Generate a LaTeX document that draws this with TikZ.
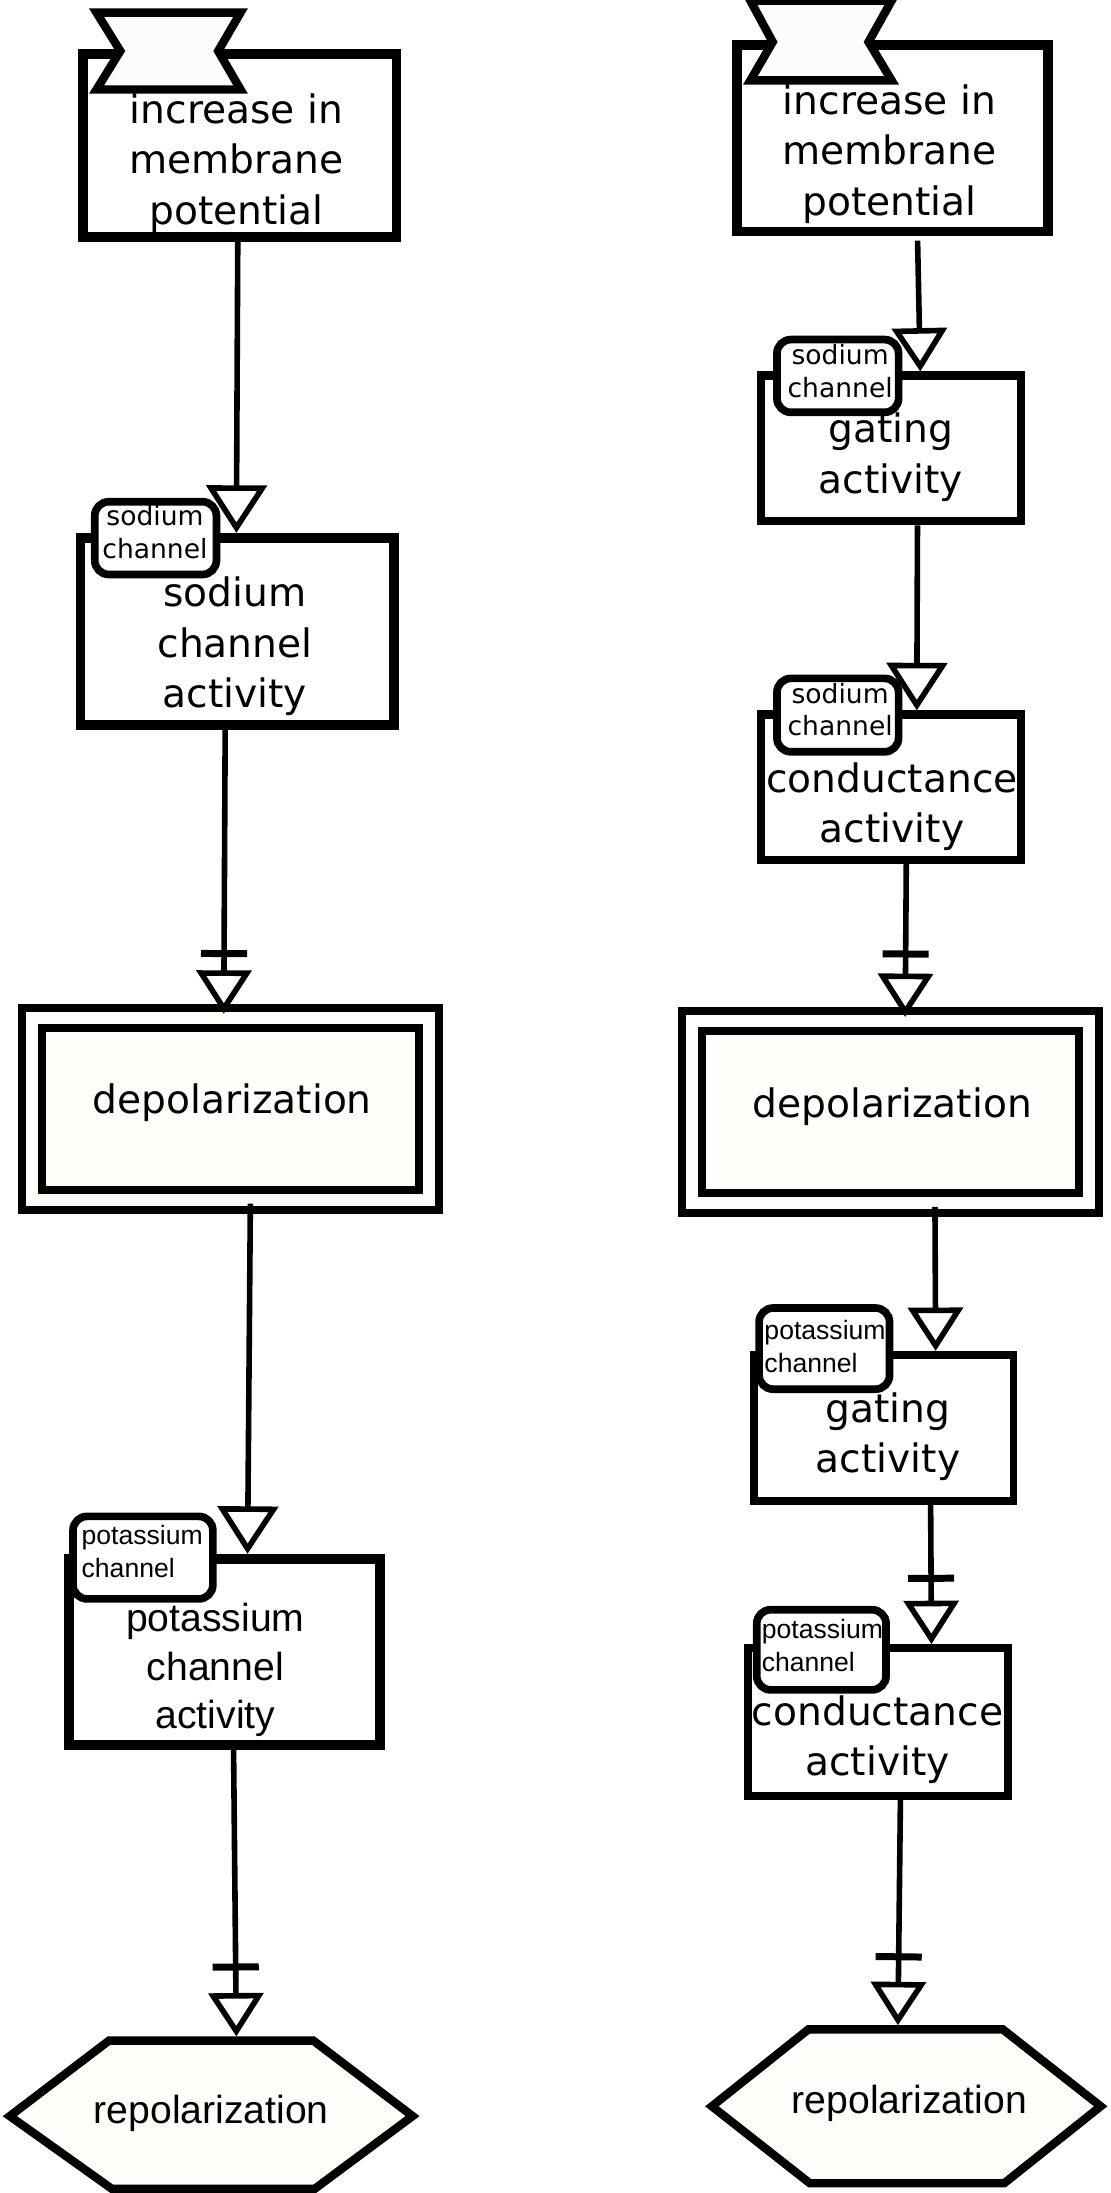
\documentclass[tikz,border=0pt]{standalone}
\usepackage{fontspec}
\newfontfamily\djv{DejaVu Sans}
\newfontfamily\arl{Liberation Sans}
\usetikzlibrary{arrows.meta,decorations.markings,calc}
\definecolor{cream}{RGB}{253,253,250}
\definecolor{flagfill}{RGB}{252,252,252}
\begin{document}
\begin{tikzpicture}[x=1pt,y=-1pt,
  pbox/.style={draw, rectangle, fill=white, inner sep=0pt, line join=miter},
  uoi/.style={draw, rectangle, rounded corners=10pt, fill=white, line width=5.5pt, inner sep=0pt},
  dbox/.style={draw, rectangle, fill=cream, double=cream, double distance=8.5pt, line width=5.8pt, inner sep=0pt},
  flagst/.style={draw, fill=flagfill, line width=6pt, line join=miter},
  hexst/.style={draw, fill=cream, line width=6pt, line join=miter},
  big/.style={font=\djv\fontsize{28}{36}\selectfont, align=center, inner sep=0pt},
  small/.style={font=\djv\fontsize{19}{23.5}\selectfont, align=center, inner sep=0pt},
  bigar/.style={font=\arl\fontsize{28}{35}\selectfont, align=center, inner sep=0pt},
  smallar/.style={font=\arl\fontsize{19}{24}\selectfont, align=left, inner sep=0pt, anchor=west},
  conn/.style={line width=4pt, -{Triangle[open, length=31pt, width=39pt]}},
  connbig/.style={line width=4pt, -{Triangle[open, length=34pt, width=43pt]}},
  nec/.style={postaction={decorate}, decoration={markings,
      mark=at position -#1 with {\draw[line width=5pt, -] (0,-16.5) -- (0,16.5);}}}
]
\useasboundingbox (0,0) rectangle (794,1568);

% ---------------- left column ----------------
\node[pbox, line width=7pt, minimum width=224pt, minimum height=131pt] (l1) at (171.5,104) {};
\draw[flagst] (69,9) -- (172,9) -- (156,36.5) -- (172,64) -- (69,64) -- (86,36.5) -- cycle;
\node[big] (l1t) at (169,116.5) {increase in\\membrane\\potential};

\node[pbox, line width=7pt, minimum width=224pt, minimum height=134pt] (l2) at (169.5,451.5) {};
\node[uoi, minimum width=87pt, minimum height=52pt] (l2u) at (111.25,384.75) {};
\node[small] (l2ut) at (110.8,380.3) {sodium\\channel};
\node[big] (l2t) at (168,462.25) {sodium\\channel\\activity};

\node[dbox, minimum width=284pt, minimum height=130pt] (dl) at (164.6,792.7) {};
\node[big] (dlt) at (166,788.25) {depolarization};

\node[pbox, line width=7pt, minimum width=222pt, minimum height=133pt] (l4) at (160.5,1181) {};
\node[uoi, minimum width=100pt, minimum height=59pt] (l4u) at (102.2,1113.7) {};
\node[smallar] (l4ut) at (58.2,1109.2) {potassium\\channel};
\node[bigar] (l4t) at (154,1193.95) {potassium\\channel\\activity};

\draw[hexst] (7,1513) -- (78,1459) -- (224,1459) -- (295,1513) -- (225,1565) -- (80,1565) -- cycle;
\node[bigar] (hl) at (151,1510.95) {repolarization};
\coordinate (hlTop) at (169,1456);

% ---------------- right column ----------------
\node[pbox, line width=7pt, minimum width=222.5pt, minimum height=133.5pt] (r1) at (638.25,98.75) {};
\draw[flagst] (536.5,0.5) -- (637.5,0.5) -- (621,30) -- (637.5,57.5) -- (536.5,57.5) -- (552.5,30) -- cycle;
\node[big] (r1t) at (636,110.25) {increase in\\membrane\\potential};

\node[pbox, line width=6pt, minimum width=186pt, minimum height=104pt] (r2) at (637,320.6) {};
\node[uoi, minimum width=87pt, minimum height=52pt] (r2u) at (599,268.8) {};
\node[small] (r2ut) at (600.7,265.1) {sodium\\channel};
\node[big] (r2t) at (637,326.95) {gating\\activity};

\node[pbox, line width=6pt, minimum width=186pt, minimum height=104pt] (r3) at (637,562.9) {};
\node[uoi, minimum width=87pt, minimum height=52.5pt] (r3u) at (599,511.3) {};
\node[small] (r3ut) at (600.7,507.35) {sodium\\channel};
\node[big] (r3t) at (637.8,576.65) {conductance\\activity};

\node[dbox, minimum width=284pt, minimum height=130pt] (dr) at (636.9,795) {};
\node[big] (drt) at (638,791.05) {depolarization};

\node[pbox, line width=5.5pt, minimum width=185.6pt, minimum height=104.8pt] (r4) at (631.85,1021.05) {};
\node[uoi, minimum width=93.3pt, minimum height=58pt] (r4u) at (589.4,964.25) {};
\node[smallar] (r4ut) at (546.4,962.65) {potassium\\channel};
\node[big] (r4t) at (635,1027.25) {gating\\activity};

\node[pbox, line width=5.5pt, minimum width=186.1pt, minimum height=106pt] (r5) at (627.8,1231.25) {};
\node[uoi, minimum width=92.5pt, minimum height=57.3pt] (r5u) at (587.3,1179.6) {};
\node[smallar] (r5ut) at (544.5,1176.55) {potassium\\channel};
\node[big] (r5t) at (627.4,1243.65) {conductance\\activity};

\draw[hexst] (509,1506) -- (578,1451) -- (717,1451) -- (787,1506) -- (718,1561) -- (579,1561) -- cycle;
\node[bigar] (hr) at (650.2,1504.15) {repolarization};
\coordinate (hrTop) at (642,1448);

% ---------------- connectors ----------------
\draw[connbig] (170,0 |- l1.south) -- (169,0 |- l2.north);
\draw[conn, nec=43pt] (161,0 |- l2.south) -- (160,0 |- dl.north);
\draw[connbig] (179,0 |- dl.south) -- (177,0 |- l4.north);
\draw[conn, nec=49.6pt] (167,0 |- l4.south) -- (hlTop);

\draw[conn, shorten <=3pt] (656,0 |- r1.south) -- (658,0 |- r2.north);
\draw[connbig] (656,0 |- r2.south) -- (655.5,0 |- r3.north);
\draw[conn, nec=45pt] (648,0 |- r3.south) -- (647.2,0 |- dr.north);
\draw[conn] (668.5,0 |- dr.south) -- (669,0 |- r4.north);
\draw[conn, nec=47pt] (665.4,0 |- r4.south) -- (666,0 |- r5.north);
\draw[conn, nec=48.9pt] (643.8,0 |- r5.south) -- (hrTop);
\end{tikzpicture}
\end{document}
